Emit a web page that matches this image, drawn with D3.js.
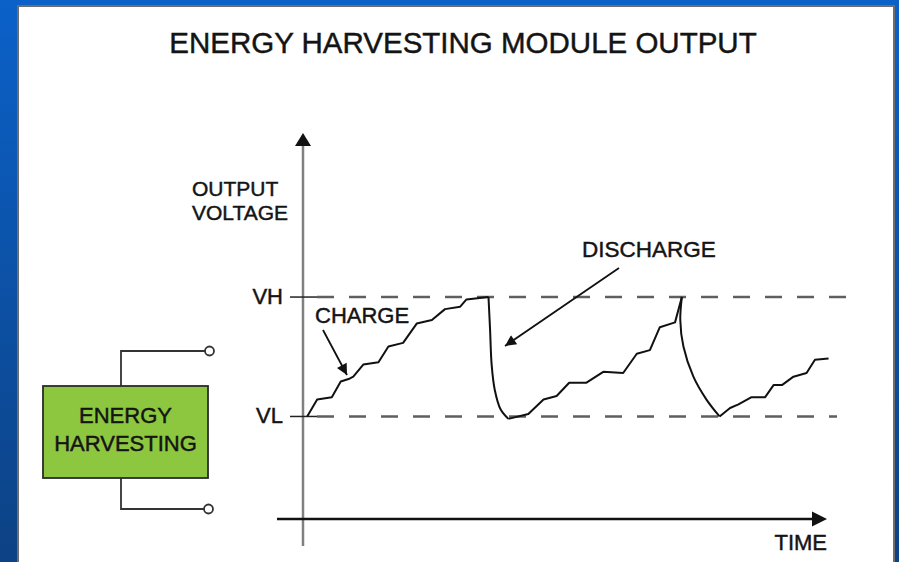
<!DOCTYPE html>
<html>
<head>
<meta charset="utf-8">
<script src="https://cdn.jsdelivr.net/npm/d3@7"></script>
<style>
  html, body { margin: 0; padding: 0; background: #0b55ad; }
  svg { display: block; }
  text { font-family: "Liberation Sans", Arial, Helvetica, sans-serif; fill: #141414; stroke: #141414; stroke-width: 0.45px; }
</style>
</head>
<body>
<div id="chart"></div>
<script>
// time in arbitrary units, voltage in arbitrary units (VL / VH thresholds)
var VL = 0.85, VH = 1.84;
var levelNames = ["VH", "VL"];
var levelValues = [VH, VL];

// charging staircase and discharge curves, [time, voltage]
var charge1 = [[0.8, 0.85], [2.7, 0.99], [5.5, 1.01], [7.2, 1.14], [8.7, 1.16], [9.6, 1.18],
  [11.5, 1.28], [14.4, 1.30], [16.3, 1.43], [19.1, 1.46], [21.7, 1.62], [24.6, 1.65],
  [27.1, 1.74], [30.0, 1.76], [31.2, 1.82], [35.4, 1.84]];
var discharge1 = [[35.4, 1.84], [35.7, 1.57], [36.0, 1.28], [36.6, 1.07], [37.7, 0.91], [39.2, 0.83]];
var charge2 = [[39.2, 0.83], [43.0, 0.87], [45.9, 0.99], [48.4, 1.02], [50.8, 1.13], [54.1, 1.13],
  [57.3, 1.22], [61.1, 1.21], [63.7, 1.37], [66.2, 1.40], [68.1, 1.59], [71.0, 1.63], [72.3, 1.84]];
var discharge2 = [[72.3, 1.84], [72.0, 1.65], [72.6, 1.43], [74.5, 1.18], [77.0, 0.99], [79.5, 0.85]];
var charge3 = [[79.5, 0.85], [81.5, 0.92], [83.1, 0.95], [85.6, 1.01], [88.2, 1.01], [89.8, 1.11],
  [91.4, 1.11], [93.6, 1.18], [96.1, 1.21], [97.7, 1.32], [100.3, 1.33]];

var yLabel = ["OUTPUT", "VOLTAGE"];
var boxLabel = ["ENERGY", "HARVESTING"];

var width = 899, height = 562;

var svg = d3.select("#chart").append("svg")
  .attr("width", width)
  .attr("height", height);

var defs = svg.append("defs");
var grad = defs.append("linearGradient")
  .attr("id", "bg").attr("x1", 0).attr("y1", 0).attr("x2", 0).attr("y2", 1);
grad.append("stop").attr("offset", "0%").attr("stop-color", "#0b61c9");
grad.append("stop").attr("offset", "100%").attr("stop-color", "#0d4284");

defs.append("marker")
  .attr("id", "head")
  .attr("viewBox", "0 0 10 10")
  .attr("refX", 10).attr("refY", 5)
  .attr("markerWidth", 14).attr("markerHeight", 11)
  .attr("markerUnits", "userSpaceOnUse")
  .attr("orient", "auto")
  .append("path")
  .attr("d", "M0,0L10,5L0,10Z")
  .attr("fill", "#111");

svg.append("rect").attr("width", width).attr("height", height).attr("fill", "url(#bg)");

// white panel
svg.append("rect")
  .attr("x", 18).attr("y", 6)
  .attr("width", 876).attr("height", 640)
  .attr("fill", "#fff")
  .attr("stroke", "#6e6e6e")
  .attr("stroke-width", 2);

svg.append("text")
  .attr("x", 463).attr("y", 53)
  .attr("text-anchor", "middle")
  .style("font-size", "29.5px")
  .text("ENERGY HARVESTING MODULE OUTPUT");

var x = d3.scaleLinear().domain([0, 100]).range([303, 827]);
var y = d3.scaleLinear().domain([0, 3.2]).range([519, 133]);

// y axis (grey) with arrow
svg.append("line")
  .attr("x1", x(0)).attr("x2", x(0))
  .attr("y1", 546).attr("y2", y(3.2) + 12)
  .attr("stroke", "#808080").attr("stroke-width", 2.5);
svg.append("path")
  .attr("d", "M" + x(0) + "," + y(3.2) + "l-8,13l16,0z")
  .attr("fill", "#111");

// x axis (black) with arrow
svg.append("line")
  .attr("x1", 277).attr("x2", x(100) - 12)
  .attr("y1", y(0)).attr("y2", y(0))
  .attr("stroke", "#111").attr("stroke-width", 2.5);
svg.append("path")
  .attr("d", "M" + x(100) + "," + y(0) + "l-15,-7.5l0,15z")
  .attr("fill", "#111");

svg.append("text")
  .attr("x", x(100)).attr("y", 550)
  .attr("text-anchor", "end")
  .style("font-size", "22px")
  .text("TIME");

svg.append("text")
  .attr("x", 192).attr("y", 196)
  .style("font-size", "21px")
  .selectAll("tspan")
  .data(yLabel)
  .enter().append("tspan")
  .attr("x", 192)
  .attr("dy", function(d, i) { return i ? 24 : 0; })
  .text(function(d) { return d; });

// threshold levels
var levels = svg.selectAll(".level")
  .data(levelValues)
  .enter().append("g")
  .attr("class", "level");

levels.append("line")
  .attr("x1", 317)
  .attr("x2", function(d, i) { return i ? 837 : 847; })
  .attr("y1", function(d) { return y(d); })
  .attr("y2", function(d) { return y(d); })
  .attr("stroke", "#5f5f5f")
  .attr("stroke-width", 2.5)
  .attr("stroke-dasharray", "17,15");

levels.append("line")
  .attr("x1", 290).attr("x2", 317)
  .attr("y1", function(d) { return y(d); })
  .attr("y2", function(d) { return y(d); })
  .attr("stroke", "#222")
  .attr("stroke-width", 1.5);

levels.append("text")
  .attr("x", 283)
  .attr("y", function(d) { return y(d) + 7; })
  .attr("text-anchor", "end")
  .style("font-size", "22px")
  .text(function(d, i) { return levelNames[i]; });

// output voltage curve
var stair = d3.line()
  .x(function(d) { return x(d[0]); })
  .y(function(d) { return y(d[1]); });
var smooth = d3.line()
  .x(function(d) { return x(d[0]); })
  .y(function(d) { return y(d[1]); })
  .curve(d3.curveCatmullRom);

[charge1, charge2, charge3].forEach(function(seg) {
  svg.append("path")
    .attr("d", stair(seg))
    .attr("fill", "none")
    .attr("stroke", "#111")
    .attr("stroke-width", 2)
    .attr("stroke-linejoin", "round");
});
[discharge1, discharge2].forEach(function(seg) {
  svg.append("path")
    .attr("d", smooth(seg))
    .attr("fill", "none")
    .attr("stroke", "#111")
    .attr("stroke-width", 2);
});

// annotations
svg.append("text")
  .attr("x", 315).attr("y", 323)
  .style("font-size", "22px")
  .text("CHARGE");
svg.append("line")
  .attr("x1", 323).attr("y1", 330)
  .attr("x2", 347).attr("y2", 375)
  .attr("stroke", "#111").attr("stroke-width", 1.8)
  .attr("marker-end", "url(#head)");

svg.append("text")
  .attr("x", 582).attr("y", 257)
  .style("font-size", "22.5px")
  .text("DISCHARGE");
svg.append("line")
  .attr("x1", 619).attr("y1", 268)
  .attr("x2", 505).attr("y2", 346)
  .attr("stroke", "#111").attr("stroke-width", 1.8)
  .attr("marker-end", "url(#head)");

// energy harvesting block with leads
var leads = svg.append("g")
  .attr("fill", "none")
  .attr("stroke", "#333")
  .attr("stroke-width", 1.8);
leads.append("path").attr("d", "M121,386V351H205");
leads.append("path").attr("d", "M121,478V509H204");
leads.append("circle").attr("cx", 209.5).attr("cy", 351).attr("r", 4.5).attr("fill", "#fff");
leads.append("circle").attr("cx", 208.5).attr("cy", 509).attr("r", 4.5).attr("fill", "#fff");

svg.append("rect")
  .attr("x", 43).attr("y", 386)
  .attr("width", 165).attr("height", 92)
  .attr("fill", "#8dc63f")
  .attr("stroke", "#2b2b2b")
  .attr("stroke-width", 1.8);

svg.append("text")
  .attr("text-anchor", "middle")
  .style("font-size", "22px")
  .selectAll("tspan")
  .data(boxLabel)
  .enter().append("tspan")
  .attr("x", 125.5)
  .attr("y", function(d, i) { return 423 + i * 28; })
  .text(function(d) { return d; });
</script>
</body>
</html>
